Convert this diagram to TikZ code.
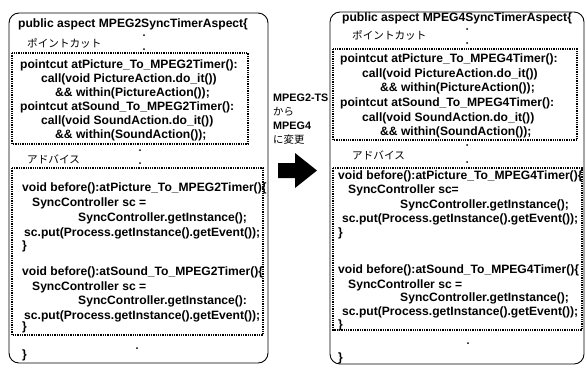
\documentclass[tikz,border=0pt]{standalone}
\usepackage{fontspec}
\setmainfont{Liberation Sans}
\newfontfamily\jpfont{Noto Sans CJK JP}
\newcommand\cdfont{\fontsize{12.1}{14}\selectfont\bfseries}
\newcommand\lbfont{\fontsize{10.8}{13}\selectfont\bfseries}
\begin{document}
\begin{tikzpicture}[x=1pt,y=-1pt,
  code/.style={anchor=west,inner sep=0pt,font=\cdfont},
  jp/.style={anchor=west,inner sep=0pt,font=\jpfont\fontsize{10.6}{12}\selectfont},
  lab/.style={anchor=west,inner sep=0pt,font=\lbfont},
  labjp/.style={anchor=west,inner sep=0pt,font=\jpfont\fontsize{10.4}{12}\selectfont},
  outer/.style={draw=black,line width=0.9pt,rounded corners=10pt},
  inner/.style={draw=black,line width=1.3pt,densely dotted},
  dot/.style={fill=black}]
\useasboundingbox (0,0) rectangle (585,365);
\fill[white] (0,0) rectangle (585,365);

% ---------- left panel ----------
\draw[outer] (9,13) rectangle (268,363);
\node[code] (lt) at (18,24) {public aspect MPEG2SyncTimerAspect\{};
\node[jp] (lj1) at (27,43) {ポイントカット};
\fill[dot] (144,35) circle (1);
\fill[dot] (144,49) circle (1);
\draw[inner] (12,53) rectangle (248,144);
\node[code] (lp1) at (20,65) {pointcut atPicture\_To\_MPEG2Timer():};
\node[code] (lp2) at (41,79) {call(void PictureAction.do\_it())};
\node[code] (lp3) at (55,93) {\&\& within(PictureAction());};
\node[code] (lp4) at (20,107) {pointcut atSound\_To\_MPEG2Timer():};
\node[code] (lp5) at (41,121) {call(void SoundAction.do\_it())};
\node[code] (lp6) at (55,135) {\&\& within(SoundAction());};
\fill[dot] (140,150) circle (1);
\fill[dot] (140,163) circle (1);
\node[jp] (lj2) at (27,159) {アドバイス};
\draw[inner] (12,168) rectangle (263,335);
\node[code] (la1) at (22,188) {void before():atPicture\_To\_MPEG2Timer()\{};
\node[code] (la2) at (32,203) {SyncController sc =};
\node[code] (la3) at (78,218) {SyncController.getInstance();};
\node[code] (la4) at (24,233) {sc.put(Process.getInstance().getEvent());};
\node[code] (la5) at (22,246) {\}};
\node[code] (la6) at (22,272) {void before():atSound\_To\_MPEG2Timer()\{};
\node[code] (la7) at (32,287) {SyncController sc =};
\node[code] (la8) at (78,301) {SyncController.getInstance():};
\node[code] (la9) at (24,316) {sc.put(Process.getInstance().getEvent());};
\node[code] (la10) at (22,327) {\}};
\fill[dot] (137,348) circle (1);
\node[code] (lend) at (22,355) {\}};

% ---------- middle ----------
\node[lab] (m1) at (273,98) {MPEG2-TS};
\node[labjp] (m2) at (273,112) {から};
\node[lab] (m3) at (273,126) {MPEG4};
\node[labjp] (m4) at (273,140) {に変更};
\fill[black] (278,163) -- (295,163) -- (295,153) -- (317,170.5) -- (295,188) -- (295,178) -- (278,178) -- cycle;

% ---------- right panel ----------
\draw[outer] (330,12) rectangle (584,364);
\node[code] (rt) at (342,18) {public aspect MPEG4SyncTimerAspect\{};
\node[jp] (rj1) at (352,35) {ポイントカット};
\fill[dot] (467,29) circle (1);
\fill[dot] (467,43) circle (1);
\draw[inner] (333,49) rectangle (577,140);
\node[code] (rp1) at (340,59) {pointcut atPicture\_To\_MPEG4Timer():};
\node[code] (rp2) at (362,74) {call(void PictureAction.do\_it())};
\node[code] (rp3) at (380,88) {\&\& within(PictureAction());};
\node[code] (rp4) at (340,103) {pointcut atSound\_To\_MPEG4Timer():};
\node[code] (rp5) at (362,118) {call(void SoundAction.do\_it())};
\node[code] (rp6) at (380,132) {\&\& within(SoundAction());};
\fill[dot] (467,145) circle (1);
\fill[dot] (467,162) circle (1);
\node[jp] (rj2) at (352,155) {アドバイス};
\draw[inner] (333,168) rectangle (582,330);
\node[code] (ra1) at (338,176) {void before():atPicture\_To\_MPEG4Timer()\{};
\node[code] (ra2) at (348,190) {SyncController sc=};
\node[code] (ra3) at (400,205) {SyncController.getInstance();};
\node[code] (ra4) at (342,219) {sc.put(Process.getInstance().getEvent());};
\node[code] (ra5) at (338,233) {\}};
\node[code] (ra6) at (338,270) {void before():atSound\_To\_MPEG4Timer()\{};
\node[code] (ra7) at (348,285) {SyncController sc =};
\node[code] (ra8) at (400,298) {SyncController.getInstance();};
\node[code] (ra9) at (342,312) {sc.put(Process.getInstance().getEvent());};
\node[code] (ra10) at (338,325) {\}};
\fill[dot] (468,343) circle (1);
\node[code] (rend) at (338,358) {\}};
\end{tikzpicture}
\end{document}
